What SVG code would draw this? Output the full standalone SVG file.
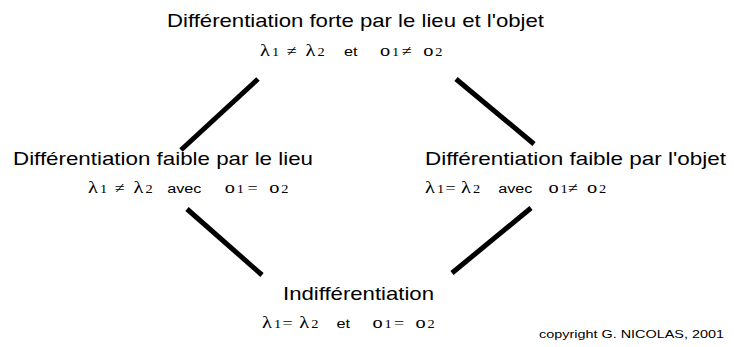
<svg xmlns="http://www.w3.org/2000/svg" width="734" height="347" viewBox="0 0 734 347">
<style>
.t{font-family:"Liberation Sans",Arial,sans-serif;font-size:18.5px;fill:#000}
.g{font-family:"Liberation Serif","Times New Roman",serif;font-size:17px;fill:#000}
.s{font-family:"Liberation Serif","Times New Roman",serif;font-size:12px;fill:#000}
.r{font-family:"Liberation Serif","Times New Roman",serif;font-size:15px;fill:#000}
.w{font-family:"Liberation Sans",Arial,sans-serif;font-size:13.5px;fill:#000}
.c{font-family:"Liberation Sans",Arial,sans-serif;font-size:11.8px;fill:#000}
.e{stroke:#000;stroke-width:5;fill:none}
</style>
<rect width="734" height="347" fill="#fff"/>
<g id="edges">
<line class="e" x1="181" y1="150" x2="258" y2="79"/>
<line class="e" x1="456" y1="79" x2="534" y2="144"/>
<line class="e" x1="187" y1="209" x2="262" y2="275"/>
<line class="e" x1="531" y1="208" x2="452" y2="273"/>
</g>
<g id="top">
<text class="t" x="167" y="27" textLength="377" lengthAdjust="spacingAndGlyphs">Différentiation forte par le lieu et l'objet</text>
<g transform="translate(260,56) scale(1.2,1)">
<text class="g" x="0" y="0">λ</text><text class="s" x="10" y="0">1</text><text class="r" x="22" y="0">≠</text>
<text class="g" x="38" y="0">λ</text><text class="s" x="48" y="0">2</text>
<text class="w" x="70" y="0">et</text>
<text class="g" x="100" y="0">o</text><text class="s" x="110" y="0">1</text><text class="r" x="118" y="0">≠</text>
<text class="g" x="136" y="0">o</text><text class="s" x="146" y="0">2</text>
</g>
</g>
<g id="left">
<text class="t" x="13" y="165" textLength="300" lengthAdjust="spacingAndGlyphs">Différentiation faible par le lieu</text>
<g transform="translate(88,193) scale(1.2,1)">
<text class="g" x="0" y="0">λ</text><text class="s" x="10" y="0">1</text><text class="r" x="22" y="0">≠</text>
<text class="g" x="38" y="0">λ</text><text class="s" x="48" y="0">2</text>
<text class="w" x="66" y="0">avec</text>
<text class="g" x="114" y="0">o</text><text class="s" x="124" y="0">1</text><text class="r" x="133" y="0">=</text>
<text class="g" x="151" y="0">o</text><text class="s" x="161" y="0">2</text>
</g>
</g>
<g id="right">
<text class="t" x="425" y="165" textLength="301" lengthAdjust="spacingAndGlyphs">Différentiation faible par l'objet</text>
<g transform="translate(425,193) scale(1.2,1)">
<text class="g" x="0" y="0">λ</text><text class="s" x="10" y="0">1</text><text class="r" x="17" y="0">=</text>
<text class="g" x="30" y="0">λ</text><text class="s" x="40" y="0">2</text>
<text class="w" x="61" y="0">avec</text>
<text class="g" x="103" y="0">o</text><text class="s" x="113" y="0">1</text><text class="r" x="119" y="0">≠</text>
<text class="g" x="135" y="0">o</text><text class="s" x="145" y="0">2</text>
</g>
</g>
<g id="bottom">
<text class="t" x="283" y="300" textLength="151" lengthAdjust="spacingAndGlyphs">Indifférentiation</text>
<g transform="translate(262,328) scale(1.2,1)">
<text class="g" x="0" y="0">λ</text><text class="s" x="10" y="0">1</text><text class="r" x="17" y="0">=</text>
<text class="g" x="31" y="0">λ</text><text class="s" x="41" y="0">2</text>
<text class="w" x="62" y="0">et</text>
<text class="g" x="92" y="0">o</text><text class="s" x="102" y="0">1</text><text class="r" x="110" y="0">=</text>
<text class="g" x="128" y="0">o</text><text class="s" x="138" y="0">2</text>
</g>
</g>
<text class="c" x="539" y="338" textLength="185" lengthAdjust="spacingAndGlyphs">copyright G. NICOLAS, 2001</text>
</svg>
